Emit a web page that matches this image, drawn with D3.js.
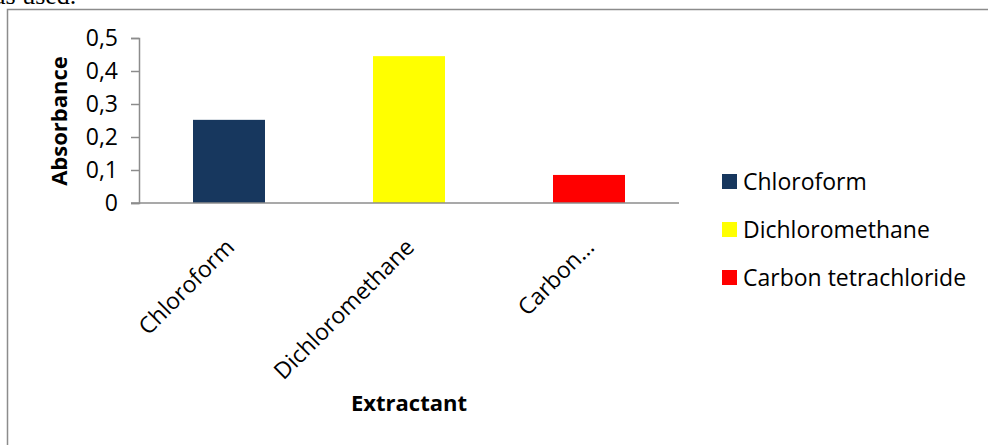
<!DOCTYPE html>
<html>
<head>
    <meta charset="utf-8">
    <title>Absorbance by extractant</title>
    <script src="https://d3js.org/d3.v7.min.js"></script>
    <style>
        body { margin: 0; background: #fff; }
        text { font-family: "Open Sans", sans-serif; fill: #000; }
    </style>
</head>
<body>
    <svg id="chart"></svg>
    <script>
        // data
        var categories = ["Chloroform", "Dichloromethane", "Carbon tetrachloride"];
        var tickLabels = ["Chloroform", "Dichloromethane", "Carbon…"];
        var absorbance = [0.252, 0.445, 0.085];
        var barColors = ["#17375E", "#FFFF00", "#FF0000"];
        var yTicks = [0, 0.1, 0.2, 0.3, 0.4, 0.5];

        var width = 988, height = 445;
        var svg = d3.select("#chart").attr("width", width).attr("height", height);

        // leftover caption line from the page above the chart (cut off, as in the source)
        svg.append("text")
            .attr("x", -6).attr("y", 4)
            .style("font-family", "'Liberation Serif', serif")
            .style("font-size", "26px")
            .text("as used.");

        // chart frame
        svg.append("rect")
            .attr("x", 7.5).attr("y", 9.5)
            .attr("width", 1000).attr("height", 500)
            .attr("fill", "none")
            .attr("stroke", "#8c8c8c")
            .attr("stroke-width", 1.5);

        var x = d3.scaleBand().domain(categories).range([139, 679]).paddingInner(0.6).paddingOuter(0.3);
        var y = d3.scaleLinear().domain([0, 0.5]).range([203, 38]);

        // bars
        svg.append("g").selectAll("rect")
            .data(categories)
            .join("rect")
            .attr("x", function (d) { return x(d); })
            .attr("y", function (d, i) { return y(absorbance[i]); })
            .attr("width", x.bandwidth())
            .attr("height", function (d, i) { return y(0) - y(absorbance[i]); })
            .attr("fill", function (d, i) { return barColors[i]; });

        // y axis
        var yAxis = svg.append("g")
            .attr("transform", "translate(139,0)")
            .call(d3.axisLeft(y).tickValues(yTicks).tickSize(8).tickPadding(13)
                .tickFormat(function (d) { return d === 0 ? "0" : d3.format(".1f")(d).replace(".", ","); }));
        yAxis.select(".domain").attr("stroke", "#8c8c8c").attr("stroke-width", 1.5);
        yAxis.selectAll(".tick line").attr("stroke", "#8c8c8c").attr("stroke-width", 1.5);
        yAxis.selectAll(".tick text").style("font-size", "23px");

        // x axis
        var xAxis = svg.append("g")
            .attr("transform", "translate(0,203)")
            .call(d3.axisBottom(x).tickSize(0).tickSizeOuter(0).tickFormat(function (d, i) { return tickLabels[i]; }));
        xAxis.select(".domain").attr("d", "M131,0H679").attr("stroke", "#8c8c8c").attr("stroke-width", 1.5);
        xAxis.selectAll(".tick text")
            .attr("x", 0).attr("y", 0)
            .attr("dy", "0.72em")
            .attr("text-anchor", "end")
            .attr("transform", "translate(-5,34) rotate(-45)")
            .style("font-size", "23px");

        // axis titles
        svg.append("text")
            .attr("transform", "translate(67,121) rotate(-90)")
            .attr("text-anchor", "middle")
            .style("font-size", "22px").style("font-weight", "bold")
            .text("Absorbance");
        svg.append("text")
            .attr("x", 409).attr("y", 411)
            .attr("text-anchor", "middle")
            .style("font-size", "22px").style("font-weight", "bold")
            .text("Extractant");

        // legend
        var legend = svg.append("g").attr("transform", "translate(722,174)");
        var rows = legend.selectAll("g").data(categories).join("g")
            .attr("transform", function (d, i) { return "translate(0," + i * 48 + ")"; });
        rows.append("rect").attr("width", 15).attr("height", 15)
            .attr("fill", function (d, i) { return barColors[i]; });
        rows.append("text").attr("x", 21).attr("y", 7.5).attr("dy", "0.36em")
            .style("font-size", "23px")
            .text(function (d) { return d; });
    </script>
</body>
</html>
